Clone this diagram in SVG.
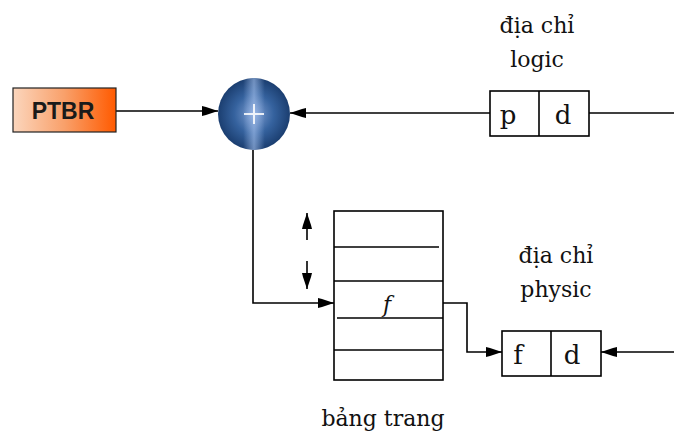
<svg xmlns="http://www.w3.org/2000/svg" width="674" height="434" viewBox="0 0 674 434">
<defs>
<linearGradient id="og" x1="0" y1="0" x2="1" y2="0">
<stop offset="0" stop-color="#fbd6bd"/>
<stop offset="0.5" stop-color="#f9a06a"/>
<stop offset="1" stop-color="#ff5a00"/>
</linearGradient>
<radialGradient id="bg" cx="0.5" cy="0.5" r="0.5">
<stop offset="0" stop-color="#7f9fd2"/>
<stop offset="0.55" stop-color="#35629e"/>
<stop offset="1" stop-color="#1b3e70"/>
</radialGradient>
<linearGradient id="hl" x1="0" y1="0" x2="1" y2="0">
<stop offset="0.35" stop-color="#a8c4f0" stop-opacity="0"/>
<stop offset="0.5" stop-color="#a8c4f0" stop-opacity="0.6"/>
<stop offset="0.65" stop-color="#a8c4f0" stop-opacity="0"/>
</linearGradient>
<marker id="ah" viewBox="0 0 16 12" refX="16" refY="6" markerWidth="16" markerHeight="12" markerUnits="userSpaceOnUse" orient="auto">
<path d="M0,1 L4,2 L16,6 L4,10 L0,11 Z" fill="#000"/>
</marker>
<style>
.ln{fill:none;stroke:#000;stroke-width:1.6}
.bx{fill:#fff;stroke:#000;stroke-width:1.6}
.t{font-family:"DejaVu Serif","Liberation Serif",serif;font-size:22px;fill:#111;text-anchor:middle}
.t.b{font-size:26px}
</style>
</defs>
<g id="connectors">
<line class="ln" x1="116" y1="111" x2="218" y2="111" marker-end="url(#ah)"/>
<line class="ln" x1="490" y1="113" x2="290" y2="113" marker-end="url(#ah)"/>
<line class="ln" x1="589" y1="113" x2="674" y2="113"/>
<polyline class="ln" points="253,150 253,303 334,303" marker-end="url(#ah)"/>
<polyline class="ln" points="443,303 467,303 467,352 502,352" marker-end="url(#ah)"/>
<line class="ln" x1="674" y1="352" x2="601" y2="352" marker-end="url(#ah)"/>
<line class="ln" x1="307" y1="240" x2="307" y2="213" marker-end="url(#ah)"/>
<line class="ln" x1="307" y1="261" x2="307" y2="289" marker-end="url(#ah)"/>
</g>
<g id="ptbr">
<rect x="13" y="88" width="103" height="44" fill="url(#og)" stroke="#222" stroke-width="1.2"/>
<text x="63" y="119" style="font-family:'Liberation Sans',Arial,sans-serif;font-size:23px;font-weight:bold;fill:#1a1a1a;text-anchor:middle">PTBR</text>
</g>
<g id="adder">
<circle cx="254" cy="114" r="36" fill="url(#bg)"/>
<circle cx="254" cy="114" r="36" fill="url(#hl)"/>
<path d="M254,104 V124 M244,114 H264" stroke="#fff" stroke-width="2" opacity="0.85"/>
</g>
<g id="logic">
<text class="t" x="537" y="33">địa chỉ</text>
<text class="t" x="537" y="67">logic</text>
<rect class="bx" x="490" y="91" width="99" height="45"/>
<line class="ln" x1="539" y1="91" x2="539" y2="136"/>
<text class="t b" x="508" y="124">p</text>
<text class="t b" x="563" y="124">d</text>
</g>
<g id="table">
<rect class="bx" x="334" y="211" width="109" height="169"/>
<line class="ln" x1="334" y1="247" x2="439" y2="247"/>
<line class="ln" x1="334" y1="281" x2="443" y2="281"/>
<line class="ln" x1="337" y1="318" x2="443" y2="318"/>
<line class="ln" x1="334" y1="350" x2="443" y2="350"/>
<text class="t" x="387" y="312" style="font-style:italic">f</text>
<text class="t" x="383" y="426">bảng trang</text>
</g>
<g id="physic">
<text class="t" x="556" y="263">địa chỉ</text>
<text class="t" x="556" y="297">physic</text>
<rect class="bx" x="502" y="331" width="99" height="45"/>
<line class="ln" x1="551" y1="331" x2="551" y2="376"/>
<text class="t b" x="518" y="364">f</text>
<text class="t b" x="572" y="364">d</text>
</g>
</svg>
